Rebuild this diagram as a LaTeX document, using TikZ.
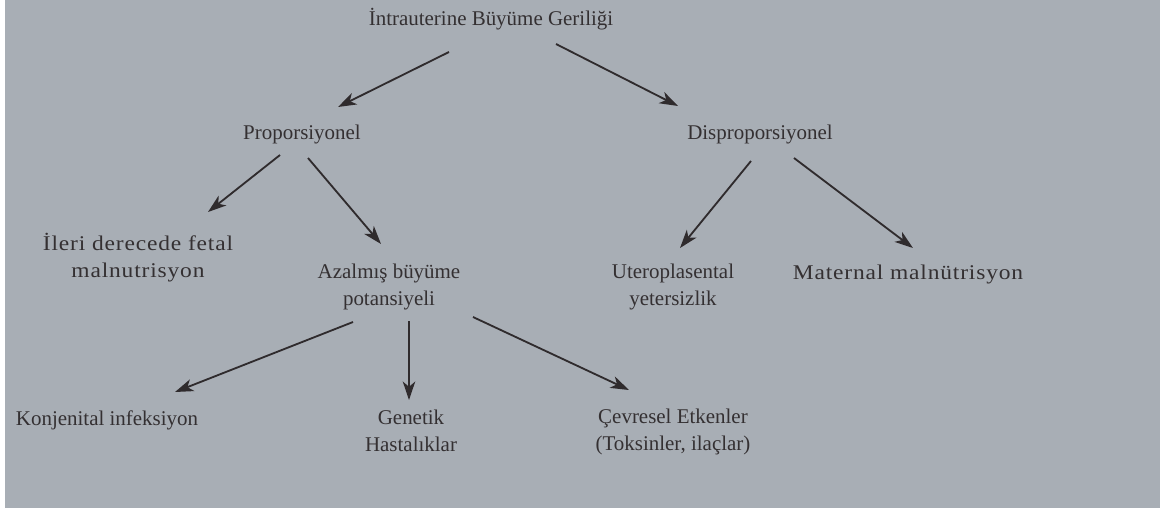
\documentclass[tikz,border=0pt]{standalone}
\usepackage{fontspec}
\setmainfont{Liberation Serif}
\usetikzlibrary{arrows.meta,calc}
\definecolor{bggray}{RGB}{168,174,181}
\definecolor{inkgray}{RGB}{52,48,50}

\begin{document}
\begin{tikzpicture}[x=0.025cm,y=-0.025cm,>=Stealth,
    lbl/.style={anchor=base,align=center,text=inkgray,inner sep=0pt,
      font=\fontsize{14.9}{18.5}\selectfont},
    wide/.style={font=\fontsize{14.9}{18.5}\selectfont
      \addfontfeature{FakeStretch=1.12,LetterSpace=4}},
    arr/.style={->,line width=1.3pt,draw=inkgray!90!black,
      >={Stealth[length=4.6mm,width=3.1mm,inset=1.3mm]}}]
  \useasboundingbox (0,0) rectangle (1160,508);
  \fill[bggray] (5,0) rectangle (1160,508);
  % labels (multi-line ones sit on their last line)
  \node[lbl] (ibg) at (491,25) {İntrauterine Büyüme Geriliği};
  \node[lbl] (prop) at (302,139) {Proporsiyonel};
  \node[lbl] (disp) at (760,139) {Disproporsiyonel};
  \node[lbl,wide] (ileri) at (138,277) {İleri derecede fetal\\malnutrisyon};
  \node[lbl] (azal) at (389,305) {Azalmış büyüme\\potansiyeli};
  \node[lbl] (utero) at (673,305) {Uteroplasental\\yetersizlik};
  \node[lbl,wide] (mat) at (908,279) {Maternal malnütrisyon};
  \node[lbl] (konj) at (107,425) {Konjenital infeksiyon};
  \node[lbl] (gen) at (411,451) {Genetik\\Hastalıklar};
  \node[lbl] (cev) at (673,450) {Çevresel Etkenler\\(Toksinler, ilaçlar)};
  % arrows
  \draw[arr] ($(ibg.base)+(-42,27)$) -- ($(prop.base)+(36,-32)$);
  \draw[arr] ($(ibg.base)+(65,19)$) -- ($(disp.base)+(-82,-33)$);
  \draw[arr] ($(prop.base)+(-22,16)$) -- ($(ileri.base)+(70,-65)$);
  \draw[arr] ($(prop.base)+(6,19)$) -- ($(azal.base)+(-8,-61)$);
  \draw[arr] ($(disp.base)+(-9,22)$) -- ($(utero.base)+(7,-57)$);
  \draw[arr] ($(disp.base)+(34,19)$) -- ($(mat.base)+(5,-31)$);
  \draw[arr] ($(azal.base)+(-36,17)$) -- ($(konj.base)+(68,-33)$);
  \draw[arr] ($(azal.base)+(20,16)$) -- ($(gen.base)+(-2,-51)$);
  \draw[arr] ($(azal.base)+(84,12)$) -- ($(cev.base)+(-44,-60)$);
\end{tikzpicture}
\end{document}
